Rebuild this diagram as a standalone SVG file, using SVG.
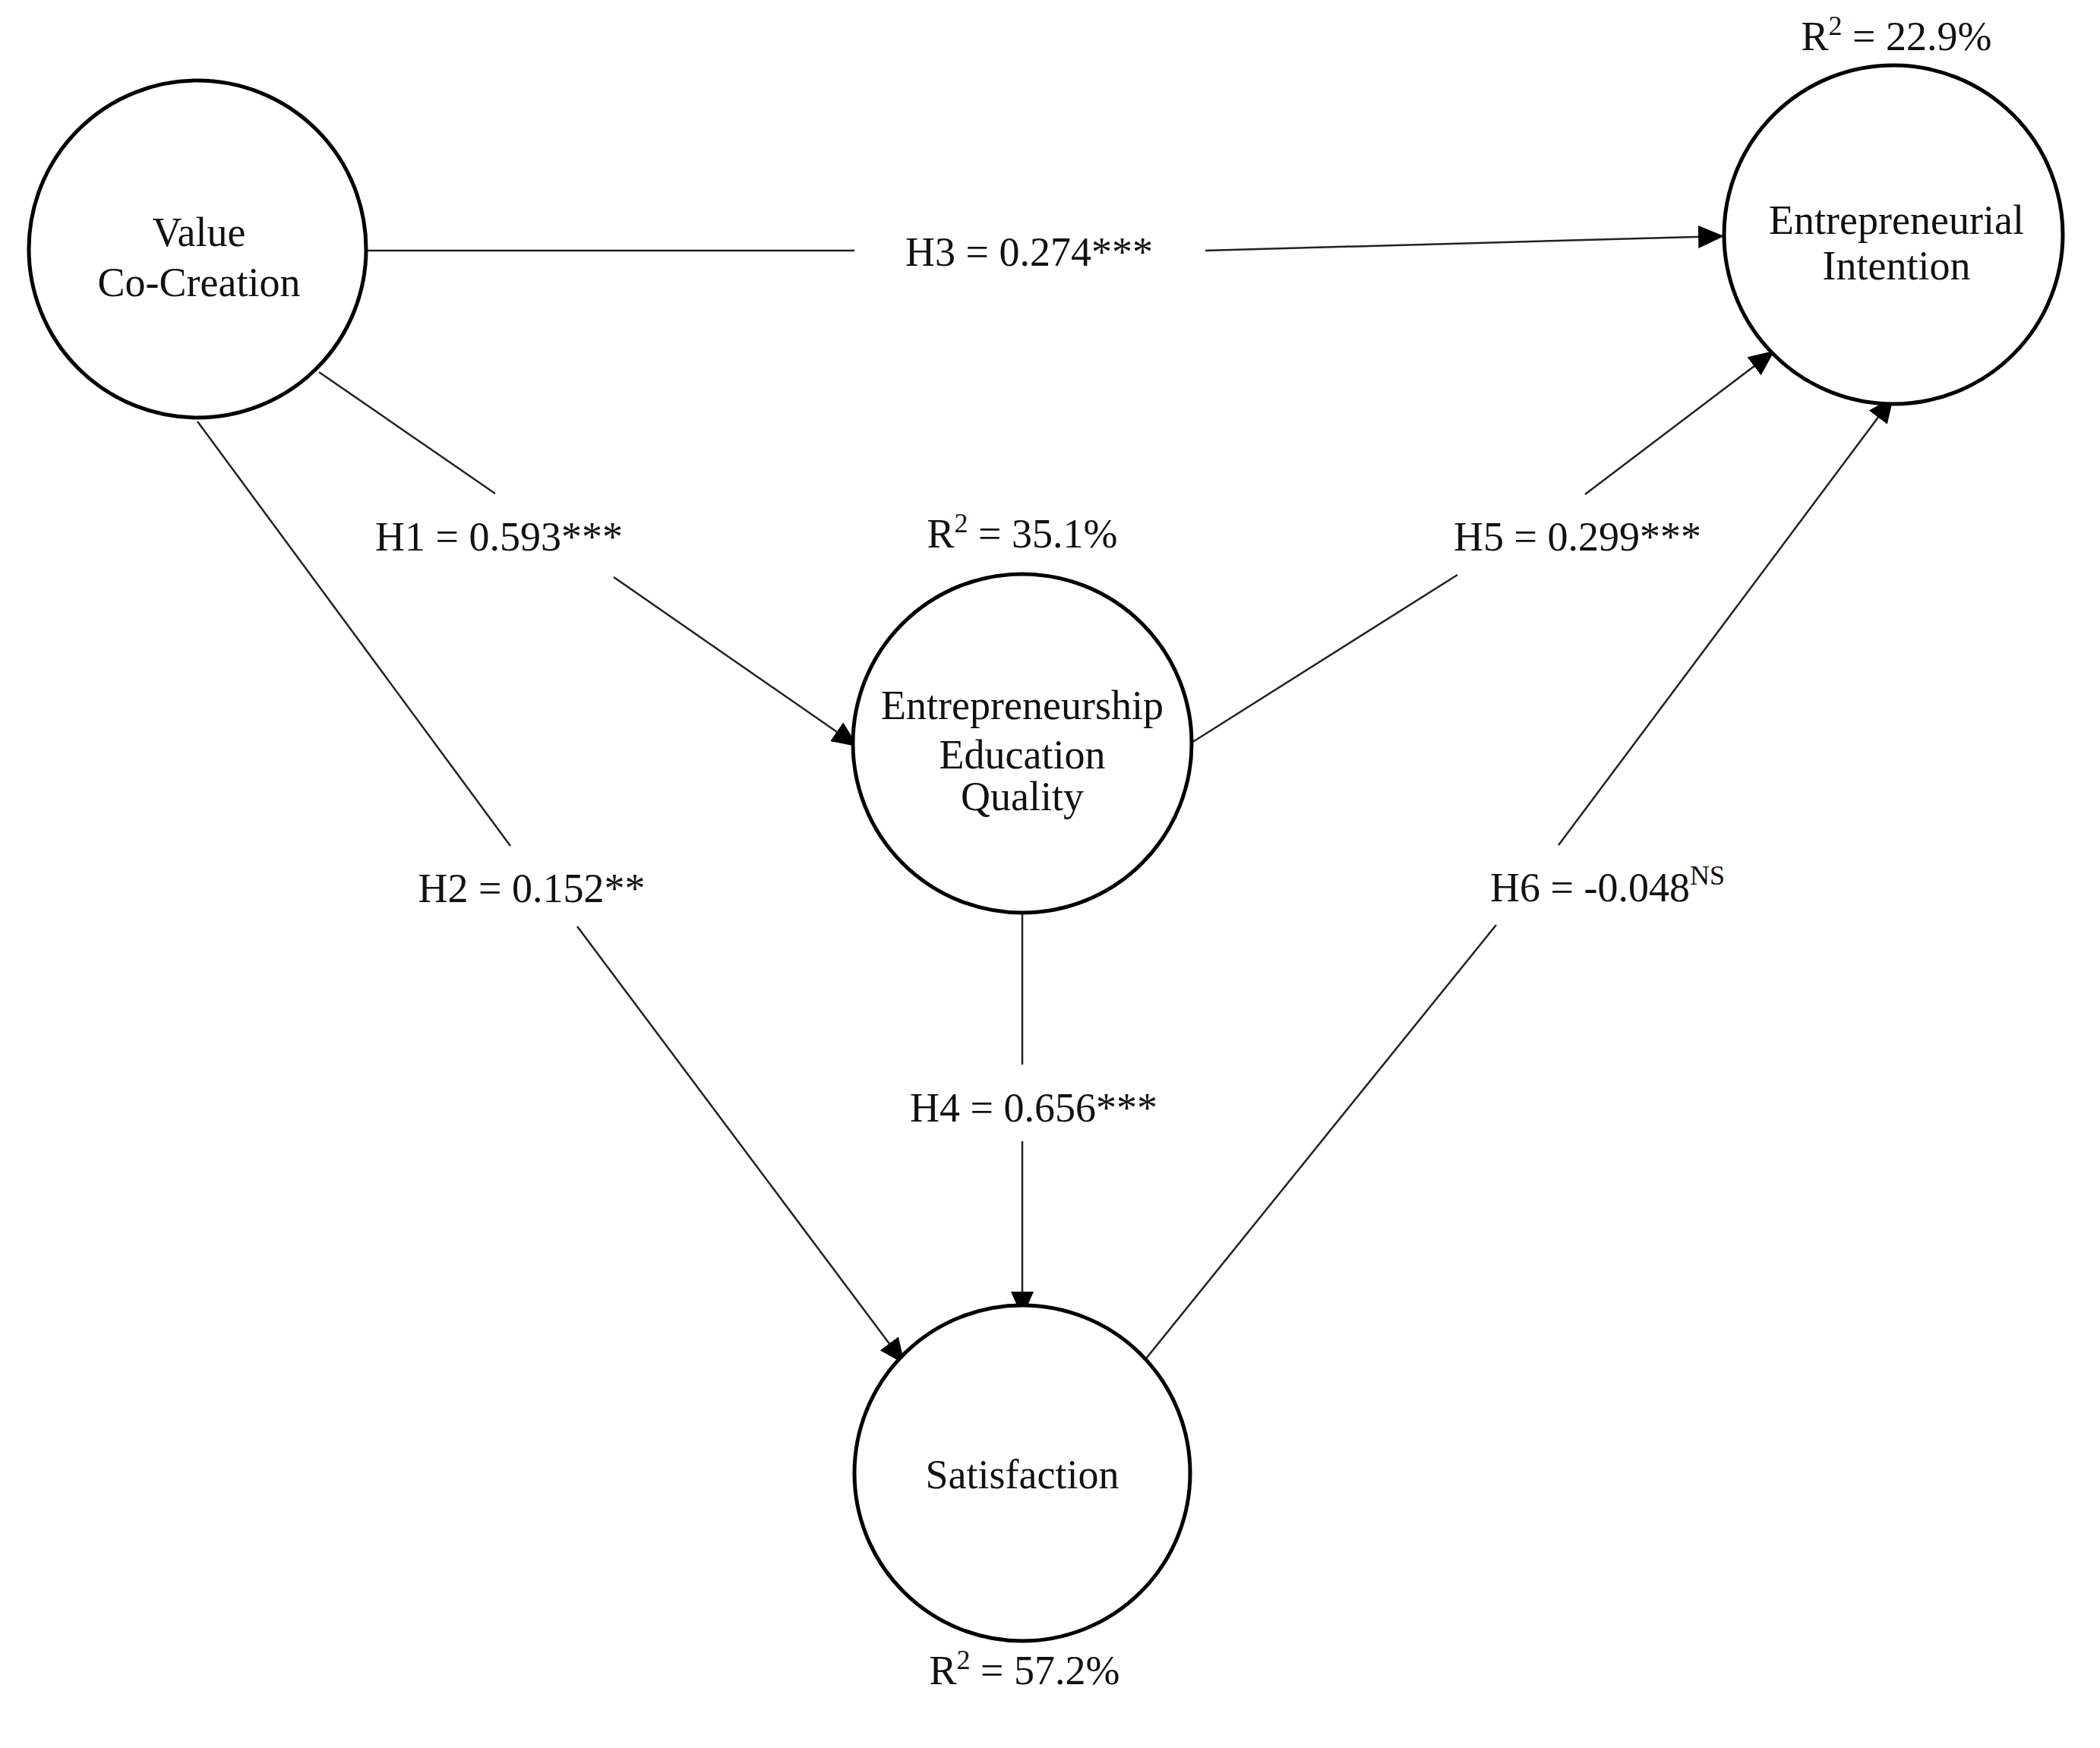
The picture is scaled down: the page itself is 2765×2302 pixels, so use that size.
<svg xmlns="http://www.w3.org/2000/svg" width="2765" height="2302" viewBox="0 0 2765 2302">
<defs>
<style>
.n{fill:#fff;stroke:#000;stroke-width:5}
.t{font-family:"Liberation Serif","Times New Roman",serif;font-size:54px;fill:#111;text-anchor:middle}
.l{stroke:#222;stroke-width:2.5;fill:none}
</style>
<marker id="a" markerUnits="userSpaceOnUse" markerWidth="34" markerHeight="30" refX="32" refY="15" orient="auto"><path d="M0,0 L34,15 L0,30 Z" fill="#000"/></marker>
</defs>
<rect width="2765" height="2302" fill="#fff"/>
<g id="connectors">
<line class="l" x1="484" y1="330" x2="1125" y2="330"/>
<line class="l" x1="1587" y1="330" x2="2268" y2="311" marker-end="url(#a)"/>
<line class="l" x1="420" y1="490" x2="652" y2="650"/>
<line class="l" x1="808" y1="760" x2="1128" y2="982" marker-end="url(#a)"/>
<line class="l" x1="260" y1="555" x2="672" y2="1114"/>
<line class="l" x1="760" y1="1220" x2="1190" y2="1795" marker-end="url(#a)"/>
<line class="l" x1="1569" y1="978" x2="1919" y2="757"/>
<line class="l" x1="2087" y1="651" x2="2335" y2="463" marker-end="url(#a)"/>
<line class="l" x1="1346" y1="1203" x2="1346" y2="1402"/>
<line class="l" x1="1346" y1="1503" x2="1346" y2="1733" marker-end="url(#a)"/>
<line class="l" x1="1505" y1="1794" x2="1970" y2="1218"/>
<line class="l" x1="2052" y1="1113" x2="2492" y2="524" marker-end="url(#a)"/>
<text class="t" x="1355" y="350">H3 = 0.274***</text>
<text class="t" x="657" y="725">H1 = 0.593***</text>
<text class="t" x="2077" y="725">H5 = 0.299***</text>
<text class="t" x="700" y="1188">H2 = 0.152**</text>
<text class="t" x="1361" y="1477">H4 = 0.656***</text>
<text class="t" x="1962" y="1187" style="text-anchor:start">H6 = -0.048<tspan font-size="36" dy="-22">NS</tspan></text>
</g>
<g id="vcc">
<circle class="n" cx="260" cy="328" r="222"/>
<text class="t" x="262" y="324">Value</text>
<text class="t" x="262" y="390">Co-Creation</text>
</g>
<g id="ei">
<circle class="n" cx="2493" cy="309" r="223"/>
<text class="t" x="2497" y="66">R<tspan font-size="36" dy="-20">2</tspan><tspan dy="20"> = 22.9%</tspan></text>
<text class="t" x="2497" y="308">Entrepreneurial</text>
<text class="t" x="2497" y="368">Intention</text>
</g>
<g id="eeq">
<circle class="n" cx="1346" cy="979" r="223"/>
<text class="t" x="1346" y="721">R<tspan font-size="36" dy="-20">2</tspan><tspan dy="20"> = 35.1%</tspan></text>
<text class="t" x="1346" y="947">Entrepreneurship</text>
<text class="t" x="1346" y="1012">Education</text>
<text class="t" x="1346" y="1067">Quality</text>
</g>
<g id="sat">
<circle class="n" cx="1346" cy="1940" r="221"/>
<text class="t" x="1346" y="1960">Satisfaction</text>
<text class="t" x="1349" y="2218">R<tspan font-size="36" dy="-20">2</tspan><tspan dy="20"> = 57.2%</tspan></text>
</g>
</svg>
